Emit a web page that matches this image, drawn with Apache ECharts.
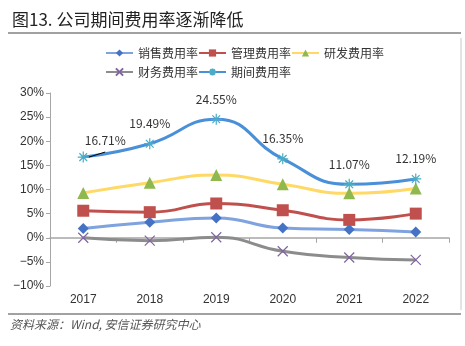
<!DOCTYPE html>
<html><head><meta charset="utf-8">
<script src="https://cdn.jsdelivr.net/npm/echarts@6/dist/echarts.min.js"></script>
<style>html,body{margin:0;padding:0;background:#fff}#c{width:465px;height:346px}</style>
</head><body><div id="c"></div>
<script>
const years = ['2017','2018','2019','2020','2021','2022'];
const salesRate = [1.9, 3.2, 4.1, 2.0, 1.7, 1.2];
const adminRate = [5.6, 5.3, 7.1, 5.7, 3.7, 5.0];
const rdRate = [9.3, 11.4, 13.0, 11.1, 9.2, 10.2];
const finRate = [0.0, -0.6, 0.1, -2.8, -4.1, -4.6];
const periodRate = [16.71, 19.49, 24.55, 16.35, 11.07, 12.19];
const names = ['销售费用率','管理费用率','研发费用率','财务费用率','期间费用率'];

const cjk = '"Noto Sans CJK SC", sans-serif';
const chart = echarts.init(document.getElementById('c'));
const xSym = 'path://M0,0L10,10M10,0L0,10';
const starSym = 'path://M5,0L5,10M0,5L10,5M1.5,1.5L8.5,8.5M8.5,1.5L1.5,8.5';

function mk(name, data, lineColor, symbol, symColor, size, extra) {
  return Object.assign({
    name, type: 'line', data, smooth: true, xAxisIndex: 0,
    symbol, symbolSize: size, showAllSymbol: true,
    lineStyle: {color: lineColor, width: 3},
    itemStyle: {color: symColor, borderColor: symColor, borderWidth: 0},
    emphasis: {disabled: true}, animation: false, z: 3
  }, extra || {});
}

const periodData = periodRate.map((v, i) => i === 0 ? {
  value: v,
  label: {offset: [22, 3]},
  labelLine: {show: true, lineStyle: {color: '#000', width: 1}}
} : v);

const legendCommon = {
  left: 100, itemGap: 0, itemWidth: 27, itemHeight: 9,
  textStyle: {fontFamily: cjk, fontSize: 12, color: '#333'}
};

chart.setOption({
  animation: false,
  title: {
    text: '图13. 公司期间费用率逐渐降低', left: 7, top: 6,
    textStyle: {fontFamily: cjk, fontSize: 17, fontWeight: 'normal', color: '#222'}
  },
  legend: [
    Object.assign({top: 42, data: names.slice(0, 3)}, legendCommon),
    Object.assign({top: 61, data: names.slice(3)}, legendCommon)
  ],
  grid: {left: 50, right: 16, top: 93, bottom: 60},
  xAxis: [{
    type: 'category', data: years, position: 'bottom',
    axisLine: {show: false, onZero: false}, axisTick: {show: false},
    axisLabel: {fontFamily: 'Liberation Sans', fontSize: 12, color: '#333', margin: 8}
  }, {
    type: 'category', data: years, position: 'bottom',
    axisLine: {show: true, onZero: true, lineStyle: {color: '#a6a6a6', width: 1.5}},
    axisTick: {show: true, length: 5, lineStyle: {color: '#a6a6a6'}},
    axisLabel: {show: false}
  }],
  yAxis: {
    type: 'value', min: -10, max: 30, interval: 5,
    axisLine: {show: true, lineStyle: {color: '#a6a6a6'}},
    axisTick: {show: true, length: 4, lineStyle: {color: '#a6a6a6'}},
    splitLine: {show: false},
    axisLabel: {fontFamily: 'Liberation Sans', fontSize: 12, color: '#333', margin: 6,
      formatter: v => String(v).replace('-', '−') + '%'}
  },
  series: [
    mk(names[0], salesRate, '#7fa3de', 'diamond', '#4472C4', 11),
    mk(names[1], adminRate, '#c0504d', 'rect', '#c0504d', 12),
    mk(names[2], rdRate, '#ffd966', 'triangle', '#8fb84e', 12),
    mk(names[3], finRate, '#8c8c8c', xSym, '#8064a2', 10, {itemStyle: {color: '#8064a2', borderColor: '#8064a2', borderWidth: 1.2}}),
    mk(names[4], periodData, '#4a90d9', starSym, '#4bacc6', 11, {
      itemStyle: {color: 'rgba(0,0,0,0)', borderColor: '#4bacc6', borderWidth: 1.2},
      label: {show: true, position: 'top', distance: 8, fontFamily: cjk, fontSize: 12, color: '#333',
        formatter: p => p.value.toFixed(2) + '%'}
    })
  ],
  graphic: [
    {type: 'line', shape: {x1: 8, y1: 33, x2: 461, y2: 33}, style: {stroke: '#444', lineWidth: 1}},
    {type: 'line', shape: {x1: 461, y1: 38, x2: 461, y2: 310}, style: {stroke: '#c8c8c8', lineWidth: 1}},
    {type: 'line', shape: {x1: 8, y1: 314, x2: 461, y2: 314}, style: {stroke: '#444', lineWidth: 1}},
    {type: 'text', left: 10, top: 318, style: {text: '资料来源：Wind, 安信证券研究中心',
      font: 'italic 12px "Noto Sans CJK SC", sans-serif', fill: '#555'}}
  ]
});
</script></body></html>
